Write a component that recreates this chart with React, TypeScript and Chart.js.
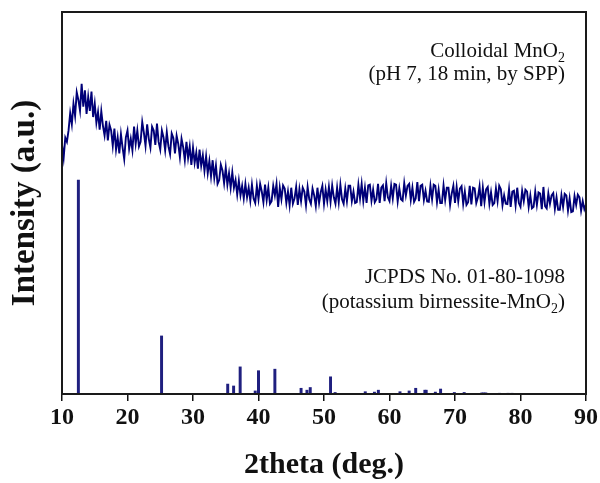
import React, { useEffect, useRef } from "react";
import { Chart, registerables } from "chart.js";

Chart.register(...registerables);

// XRD pattern of colloidal MnO2, sampled every 0.25 deg from 10 to 90 deg (2theta)
const scanStart = 10;
const scanStep = 0.25;
const xrdIntensity = [
  652, 618, 671, 660,
  690, 735, 706, 760,
  728, 790, 770, 742,
  812, 752, 795, 733,
  778, 741, 792, 725,
  760, 710, 738, 692,
  740, 702, 677, 715,
  664, 705, 690, 650,
  695, 640, 672, 630,
  680, 645, 615, 672,
  690, 642, 668, 638,
  700, 655, 690, 648,
  660, 712, 684, 650,
  706, 668, 645, 700,
  690, 652, 708, 660,
  640, 690, 672, 638,
  685, 648, 628, 682,
  670, 630, 676, 655,
  620, 668, 646, 612,
  660, 618, 648, 600,
  645, 605, 632, 590,
  640, 598, 625, 584,
  622, 578, 610, 570,
  612, 566, 598, 550,
  560, 600, 585, 552,
  592, 548, 578, 540,
  580, 540, 560, 522,
  558, 520, 545, 512,
  550, 515, 540, 506,
  548, 512, 500, 545,
  510, 550, 530, 502,
  548, 508, 540, 498,
  505, 545, 520, 550,
  490, 540, 510, 546,
  538, 500, 530, 494,
  540, 498, 512, 542,
  495, 536, 505, 540,
  530, 494, 542, 510,
  498, 538, 520, 492,
  540, 500, 528, 545,
  498, 535, 505, 542,
  503, 546, 515, 498,
  540, 502, 548, 510,
  498, 538, 505, 545,
  545, 505, 530, 500,
  502, 548, 512, 550,
  505, 540, 500, 546,
  548, 506, 535, 502,
  510, 550, 500, 540,
  546, 505, 552, 515,
  505, 545, 512, 550,
  548, 504, 538, 510,
  506, 552, 520, 545,
  550, 508, 540, 503,
  512, 555, 505, 545,
  548, 508, 532, 504,
  503, 545, 510, 548,
  545, 502, 535, 500,
  500, 546, 508, 540,
  540, 495, 525, 545,
  500, 542, 505, 538,
  544, 498, 530, 495,
  502, 545, 496, 540,
  538, 500, 515, 544,
  492, 540, 502, 536,
  542, 498, 528, 495,
  500, 538, 505, 545,
  536, 494, 520, 498,
  497, 536, 490, 530,
  532, 494, 540, 500,
  490, 532, 505, 535,
  530, 490, 520, 486,
  490, 530, 495, 528,
  525, 484, 542, 492,
  486, 525, 498, 520,
  526, 485, 515, 482,
  482, 520, 490, 524,
  520, 480, 512, 476,
  478, 518, 495, 522,
  515, 480, 505, 484,
  496,
];

// JCPDS No. 01-80-1098 reference lines
const refPositions = [
  12.5, 25.2, 35.3, 36.2, 37.2, 39.5, 40.0, 42.5, 46.5, 47.4, 47.9, 51.0, 51.7,
  56.3, 57.7, 58.3, 61.6, 63.0, 64.0, 65.4, 65.6, 67.0, 67.8, 69.9, 71.4, 74.1,
  74.4, 74.7, 76.8, 78.1, 78.7,
];
const refHeights = [
  560, 152, 26, 21, 71, 8, 61, 65, 15, 10, 17, 45, 4,
  6, 5, 10, 6, 8, 15, 10, 10, 5, 13, 4, 4, 3,
  3, 3, 2, 2, 2,
];

const xTickValues = [10, 20, 30, 40, 50, 60, 70, 80, 90];
const xTitle = "2theta (deg.)";
const yTitle = "Intensity (a.u.)";
const sampleLines = [
  [{ t: "Colloidal MnO" }, { t: "2", sub: true }],
  [{ t: "(pH 7, 18 min, by SPP)" }],
];
const referenceLines = [
  [{ t: "JCPDS No. 01-80-1098" }],
  [{ t: "(potassium birnessite-MnO" }, { t: "2", sub: true }, { t: ")" }],
];

const SERIF = "'Liberation Serif','Times New Roman',serif";

type Part = { t: string; sub?: boolean };

function drawRightText(ctx: CanvasRenderingContext2D, parts: Part[], right: number, baseline: number, size: number) {
  let x = right;
  ctx.textAlign = "left";
  ctx.textBaseline = "alphabetic";
  for (let i = parts.length - 1; i >= 0; i--) {
    const p = parts[i];
    const fs = p.sub ? Math.round(size * 0.65) : size;
    ctx.font = `${fs}px ${SERIF}`;
    const w = ctx.measureText(p.t).width;
    ctx.fillText(p.t, x - w, baseline + (p.sub ? size * 0.25 : 0));
    x -= w;
  }
}

const framePlugin = {
  id: "frameAndLabels",
  afterDraw(chart: any) {
    const { ctx, chartArea } = chart;
    const { left, top, right, bottom } = chartArea;
    ctx.save();
    ctx.strokeStyle = "#1a1a1a";
    ctx.lineWidth = 2;
    ctx.strokeRect(left, top, right - left, bottom - top);
    ctx.fillStyle = "#111";
    const rx = right - 21;
    drawRightText(ctx, sampleLines[0] as Part[], rx, top + 45, 21);
    drawRightText(ctx, sampleLines[1] as Part[], rx, top + 68, 21);
    drawRightText(ctx, referenceLines[0] as Part[], rx, top + 271, 21);
    drawRightText(ctx, referenceLines[1] as Part[], rx, top + 296, 21);
    ctx.restore();
  },
};

export default function App() {
  const ref = useRef<HTMLCanvasElement | null>(null);

  useEffect(() => {
    if (!ref.current) return;
    const xrdPoints = xrdIntensity.map((v, i) => ({ x: scanStart + i * scanStep, y: v }));
    const refPoints = refPositions.map((p, i) => ({ x: p, y: refHeights[i] }));

    const chart = new Chart(ref.current, {
      type: "line",
      data: {
        datasets: [
          {
            type: "line",
            data: xrdPoints,
            borderColor: "#000078",
            borderWidth: 1.9,
            pointRadius: 0,
            tension: 0,
          } as any,
          {
            type: "bar",
            data: refPoints,
            backgroundColor: "#1f1f7f",
            borderWidth: 0,
            barThickness: 2.3,
          } as any,
        ],
      },
      options: {
        animation: false,
        responsive: false,
        devicePixelRatio: 1,
        layout: { padding: { top: 12, right: 14, left: 0, bottom: 0 } },
        plugins: { legend: { display: false }, tooltip: { enabled: false } },
        scales: {
          x: {
            type: "linear",
            min: 10,
            max: 90,
            offset: false,
            afterBuildTicks: (s: any) => {
              s.ticks = xTickValues.map((v) => ({ value: v }));
            },
            ticks: {
              color: "#111",
              autoSkip: false,
              maxRotation: 0,
              padding: 2,
              font: { family: SERIF, size: 24, weight: "bold" },
            },
            grid: {
              display: true,
              offset: false,
              drawOnChartArea: false,
              drawTicks: true,
              tickLength: 7,
              color: "#111",
              lineWidth: 1.5,
            },
            border: { display: false },
            title: {
              display: true,
              text: xTitle,
              color: "#111",
              font: { family: SERIF, size: 30, weight: "bold" },
              padding: { top: 0, bottom: 0 },
            },
            afterFit: (s: any) => {
              s.height = 89;
            },
          },
          y: {
            min: 0,
            max: 1000,
            ticks: { display: false },
            grid: { display: false },
            border: { display: false },
            title: {
              display: true,
              text: yTitle,
              color: "#111",
              font: { family: SERIF, size: 33, weight: "bold" },
              padding: { top: 6, bottom: 0 },
            },
            afterFit: (s: any) => {
              s.width = 62;
            },
          },
        },
      } as any,
      plugins: [framePlugin],
    });
    return () => chart.destroy();
  }, []);

  return (
    <div style={{ position: "fixed", left: 0, top: 0, width: 600, height: 483, background: "#fff" }}>
      <canvas ref={ref} width={600} height={483} style={{ width: 600, height: 483 }} />
    </div>
  );
}
